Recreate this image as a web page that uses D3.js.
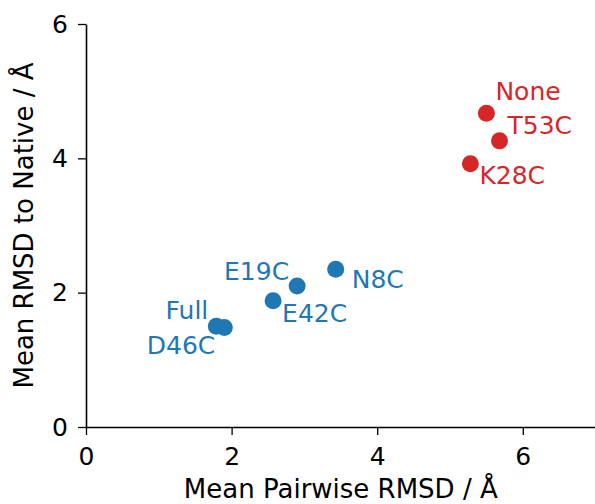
<!DOCTYPE html>
<html>
<head>
<meta charset="utf-8">
<script src="https://cdn.jsdelivr.net/npm/d3@7"></script>
<style>
	body{margin:0;background:#fff;}
	text{font-family:"DejaVu Sans", sans-serif;}
</style>
</head>
<body>
<div id="chart"></div>
<script>
// data
const names   = ['None', 'T53C', 'K28C', 'N8C', 'E19C', 'E42C', 'Full', 'D46C'];
const pairwise = [5.50, 5.68, 5.28, 3.43, 2.90, 2.57, 1.79, 1.90];
const toNative = [4.67, 4.26, 3.92, 2.35, 2.10, 1.88, 1.50, 1.48];
const groups   = ['red', 'red', 'red', 'blue', 'blue', 'blue', 'blue', 'blue'];
const xTicks = [0, 2, 4, 6];
const yTicks = [0, 2, 4, 6];

// label placement (pixels from the point)
const labelDx     = [9, 8, 9, 16, -8, 9, -8, -9];
const labelDy     = [-13, -7, 20, 19, -6, 21, -7, 26];
const labelAnchor = ['start', 'start', 'start', 'start', 'end', 'start', 'end', 'end'];

const colours = {red:'#d62728', blue:'#1f77b4'};

let wSvg = 595,
	hSvg = 504,
	margin = {top:24, right:0, bottom:77, left:86};

let svg = d3.select('#chart').append('svg')
	.attr('width', wSvg)
	.attr('height', hSvg);

let scaleX = d3.scaleLinear().domain([0, 7]).range([margin.left, margin.left + 7*72.8]);
let scaleY = d3.scaleLinear().domain([0, 6]).range([hSvg - margin.bottom, margin.top]);

// axes
let xAxis = svg.append('g')
	.attr('transform', 'translate(0,' + scaleY(0) + ')')
	.call(d3.axisBottom(scaleX).tickValues(xTicks).tickFormat(d3.format('d'))
		.tickSize(8).tickPadding(12).tickSizeOuter(0));
let yAxis = svg.append('g')
	.attr('transform', 'translate(' + scaleX(0) + ',0)')
	.call(d3.axisLeft(scaleY).tickValues(yTicks).tickFormat(d3.format('d'))
		.tickSize(8).tickPadding(10).tickSizeOuter(0));

[xAxis, yAxis].forEach(function(ax){
	ax.select('.domain').attr('stroke', '#000').attr('stroke-width', 1.6);
	ax.selectAll('.tick line').attr('stroke', '#000').attr('stroke-width', 1.3);
	ax.selectAll('.tick text').attr('fill', '#000').style('font-size', '25px').style('font-family', 'DejaVu Sans');
});

// axis titles
svg.append('text')
	.attr('x', (scaleX(0) + scaleX(7))/2)
	.attr('y', 498)
	.attr('text-anchor', 'middle')
	.style('font-size', '26px')
	.text('Mean Pairwise RMSD / Å');

svg.append('text')
	.attr('transform', 'translate(33,' + scaleY(3) + ') rotate(-90)')
	.attr('text-anchor', 'middle')
	.style('font-size', '26px')
	.text('Mean RMSD to Native / Å');

// points
names.forEach(function(nm, i){
	svg.append('circle')
		.attr('cx', scaleX(pairwise[i]))
		.attr('cy', scaleY(toNative[i]))
		.attr('r', 8.5)
		.attr('fill', colours[groups[i]]);
	svg.append('text')
		.attr('x', scaleX(pairwise[i]) + labelDx[i])
		.attr('y', scaleY(toNative[i]) + labelDy[i])
		.attr('text-anchor', labelAnchor[i])
		.attr('fill', colours[groups[i]])
		.style('font-size', '25px')
		.text(nm);
});
</script>
</body>
</html>
